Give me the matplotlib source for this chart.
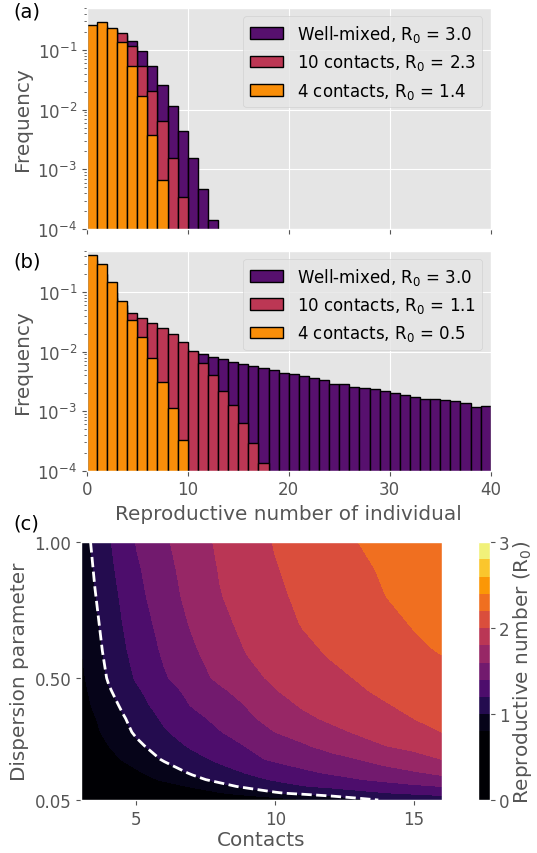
import numpy as np
import matplotlib
matplotlib.use('Agg')
import matplotlib.pyplot as plt

plt.style.use('ggplot')
plt.rcParams['font.size'] = 12

purple, red, orange = '#57106e', '#bc3754', '#f98e09'

# (a) offspring distributions, bins of width 1 starting at 0
a_well = [0.05, 0.14, 0.21, 0.18, 0.143, 0.095, 0.053, 0.0254, 0.0113,
          0.00435, 0.00153, 4.7e-4, 1.43e-4]
a_ten = [0.15, 0.25, 0.22, 0.19, 0.114, 0.053, 0.0207, 0.0064, 0.00156, 3.4e-4]
a_four = [0.26, 0.297, 0.23, 0.134, 0.053, 0.0167, 0.0038, 6.6e-4]
a_labels = ['Well-mixed, R$_0$ = 3.0', '10 contacts, R$_0$ = 2.3',
            '4 contacts, R$_0$ = 1.4']

# (b)
b_well = [0.3, 0.15, 0.08, 0.05, 0.035, 0.025, 0.02, 0.016, 0.013, 0.011,
          0.0098, 0.0090, 0.00813, 0.00752, 0.0066, 0.00612, 0.00566, 0.00537,
          0.0049, 0.00436, 0.0042, 0.00398, 0.00359, 0.00332, 0.00288, 0.00284,
          0.0026, 0.00244, 0.00238, 0.0022, 0.00203, 0.00186, 0.00176, 0.00163,
          0.00163, 0.00157, 0.00147, 0.00138, 0.0012, 0.00124]
b_ten = [0.35, 0.2, 0.1, 0.06, 0.0443, 0.0365, 0.0304, 0.0254, 0.0196, 0.0144,
         0.0101, 0.00644, 0.00405, 0.00223, 0.00126, 6.4e-4, 2.9e-4, 1.36e-4]
b_four = [0.426, 0.296, 0.151, 0.0705, 0.0346, 0.0175, 0.0077, 0.0031,
          0.00114, 3.3e-4]
b_labels = ['Well-mixed, R$_0$ = 3.0', '10 contacts, R$_0$ = 1.1',
            '4 contacts, R$_0$ = 0.5']

# (c) R0: rows = dispersion, columns = contacts
contacts = [3, 3.5, 4, 4.5, 5, 6, 7, 8, 9, 10, 11, 12, 13, 14, 15, 16]
dispersion = [0.05, 0.075, 0.1, 0.125, 0.15, 0.2, 0.25, 0.3, 0.35, 0.4,
              0.45, 0.5, 0.6, 0.7, 0.8, 0.9, 1.0]
r0 = [
    [0.25, 0.285, 0.32, 0.35, 0.38, 0.44, 0.50, 0.56, 0.62, 0.69, 0.78, 0.87, 0.95, 1.02, 1.07, 1.12],
    [0.35, 0.385, 0.42, 0.46, 0.50, 0.60, 0.68, 0.78, 0.88, 0.98, 1.04, 1.09, 1.14, 1.19, 1.22, 1.24],
    [0.40, 0.45, 0.50, 0.545, 0.59, 0.71, 0.82, 0.94, 1.04, 1.11, 1.19, 1.23, 1.28, 1.32, 1.36, 1.40],
    [0.45, 0.50, 0.56, 0.62, 0.71, 0.83, 0.95, 1.05, 1.14, 1.22, 1.28, 1.33, 1.39, 1.44, 1.50, 1.55],
    [0.50, 0.575, 0.65, 0.71, 0.77, 0.90, 1.02, 1.12, 1.21, 1.28, 1.36, 1.42, 1.47, 1.53, 1.58, 1.63],
    [0.60, 0.675, 0.75, 0.81, 0.88, 1.02, 1.13, 1.24, 1.35, 1.43, 1.49, 1.54, 1.60, 1.67, 1.73, 1.80],
    [0.64, 0.72, 0.80, 0.88, 0.96, 1.10, 1.23, 1.32, 1.41, 1.50, 1.58, 1.66, 1.73, 1.80, 1.85, 1.90],
    [0.68, 0.765, 0.85, 0.94, 1.03, 1.18, 1.29, 1.39, 1.49, 1.60, 1.67, 1.75, 1.82, 1.88, 1.94, 2.00],
    [0.69, 0.79, 0.89, 0.98, 1.07, 1.23, 1.34, 1.45, 1.57, 1.66, 1.76, 1.83, 1.89, 1.95, 2.00, 2.04],
    [0.72, 0.83, 0.93, 1.03, 1.13, 1.28, 1.41, 1.51, 1.61, 1.73, 1.82, 1.88, 1.94, 1.99, 2.04, 2.08],
    [0.74, 0.86, 0.98, 1.07, 1.17, 1.32, 1.45, 1.56, 1.68, 1.79, 1.86, 1.92, 1.98, 2.03, 2.07, 2.12],
    [0.76, 0.89, 1.02, 1.12, 1.22, 1.38, 1.51, 1.64, 1.75, 1.83, 1.90, 1.96, 2.01, 2.06, 2.10, 2.14],
    [0.79, 0.93, 1.06, 1.17, 1.26, 1.43, 1.57, 1.70, 1.81, 1.89, 1.96, 2.02, 2.07, 2.12, 2.17, 2.21],
    [0.80, 0.96, 1.09, 1.20, 1.30, 1.47, 1.62, 1.75, 1.85, 1.93, 2.01, 2.06, 2.11, 2.16, 2.21, 2.25],
    [0.83, 0.99, 1.12, 1.23, 1.34, 1.51, 1.66, 1.79, 1.88, 1.97, 2.03, 2.09, 2.14, 2.20, 2.24, 2.28],
    [0.86, 1.02, 1.15, 1.265, 1.37, 1.54, 1.68, 1.81, 1.90, 1.99, 2.05, 2.11, 2.17, 2.22, 2.26, 2.30],
    [0.90, 1.045, 1.18, 1.29, 1.41, 1.57, 1.71, 1.83, 1.92, 2.01, 2.08, 2.14, 2.20, 2.25, 2.29, 2.34],
]

W, H = 537, 854
fig = plt.figure(figsize=(W / 100, H / 100), dpi=100)


def box(left, top, right, bottom):
    return [left / W, 1 - bottom / H, (right - left) / W, (bottom - top) / H]


ax_a = fig.add_axes(box(86.7, 9.1, 490.7, 230))
ax_b = fig.add_axes(box(86.7, 251.7, 490.7, 471.7), sharex=ax_a)

for ax, series, labels in [(ax_a, (a_well, a_ten, a_four), a_labels),
                           (ax_b, (b_well, b_ten, b_four), b_labels)]:
    ax.set_yscale('log')
    for vals, col, lab in zip(series, (purple, red, orange), labels):
        ax.bar(np.arange(len(vals)), vals, width=1, align='edge', color=col,
               edgecolor='black', linewidth=1, label=lab)
    ax.set_ylim(1e-4, 0.5)
    ax.set_xlim(0, 40)
    ax.set_ylabel('Frequency')
    ax.legend(loc='upper right', fontsize=12)

plt.setp(ax_a.get_xticklabels(), visible=False)
ax_b.set_xticks([0, 10, 20, 30, 40])
ax_b.set_xlabel('Reproductive number of individual')

ax_c = fig.add_axes(box(81, 543.3, 441.7, 801))
levels = [0, 0.8, 1.0, 1.2, 1.4, 1.6, 1.8, 2.0, 2.2, 2.4, 2.6, 2.8, 3.0]
cs = ax_c.contourf(contacts, dispersion, r0, levels=levels, cmap='inferno',
                   vmin=0.8, vmax=3.0)
ax_c.contour(contacts, dispersion, r0, levels=[1.0], colors='white',
             linestyles='--', linewidths=2)
ax_c.grid(False)
ax_c.set_xlim(3, 16)
ax_c.set_ylim(0.05, 1.0)
ax_c.set_xticks([5, 10, 15])
ax_c.set_yticks([0.05, 0.5, 1.0])
ax_c.set_yticklabels(['0.05', '0.50', '1.00'])
ax_c.set_xlabel('Contacts', labelpad=2)
ax_c.set_ylabel('Dispersion parameter')

cax = fig.add_axes(box(478.3, 543.3, 490, 801))
cbar = fig.colorbar(cs, cax=cax, spacing='proportional', ticks=[0, 1, 2, 3])
cbar.set_label('Reproductive number (R$_0$)', color='#555555', fontsize=14.4,
               labelpad=1)
cbar.ax.tick_params(colors='#555555', pad=3)

fig.text(13 / W, 1 - 3 / H, '(a)', va='top', fontsize=14)
fig.text(13 / W, 1 - 252 / H, '(b)', va='top', fontsize=14)
fig.text(13 / W, 1 - 515 / H, '(c)', va='top', fontsize=14)

fig.savefig('out.png', dpi=100)
